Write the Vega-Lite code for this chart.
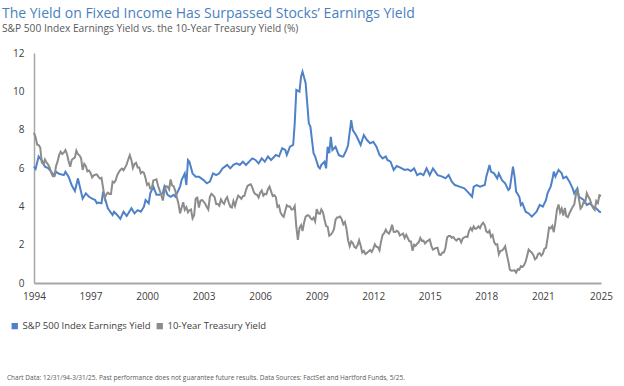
{
  "$schema": "https://vega.github.io/schema/vega-lite/v6.json",
  "padding": {"left": 2, "top": 6, "right": 5, "bottom": 2},
  "background": "white",
  "config": {"view": {"stroke": null}, "font": "Open Sans"},
  "title": {"text": "Chart Data: 12/31/94-3/31/25. Past performance does not guarantee future results. Data Sources: FactSet and Hartford Funds, 5/25.", "orient": "bottom", "anchor": "start", "frame": "bounds", "fontSize": 6.5, "fontWeight": "normal", "color": "#595959", "offset": 44, "dx": 5},
  "datasets": {
    "sp": [
      {"d":"1994-12","v":6.07},{"d":"1995-01","v":5.95},{"d":"1995-03","v":6.6},{"d":"1995-05","v":6.4},{"d":"1995-07","v":6.07},{"d":"1995-09","v":6.0},{"d":"1995-11","v":5.8},{"d":"1996-01","v":5.6},{"d":"1996-02","v":5.8},{"d":"1996-04","v":5.7},{"d":"1996-07","v":5.63},{"d":"1996-08","v":5.8},{"d":"1996-10","v":5.55},{"d":"1996-12","v":5.1},
      {"d":"1997-02","v":4.8},{"d":"1997-04","v":5.46},{"d":"1997-05","v":5.1},{"d":"1997-07","v":4.4},{"d":"1997-09","v":4.68},{"d":"1997-11","v":4.5},{"d":"1998-01","v":4.4},{"d":"1998-03","v":4.33},{"d":"1998-04","v":4.16},{"d":"1998-05","v":4.2},{"d":"1998-07","v":4.16},{"d":"1998-08","v":4.77},{"d":"1998-11","v":3.9},
      {"d":"1999-02","v":3.55},{"d":"1999-03","v":3.72},{"d":"1999-05","v":3.55},{"d":"1999-07","v":3.35},{"d":"1999-09","v":3.72},{"d":"1999-11","v":3.5},{"d":"1999-12","v":3.63},{"d":"2000-02","v":3.9},{"d":"2000-04","v":3.63},{"d":"2000-06","v":3.8},{"d":"2000-08","v":3.72},{"d":"2000-10","v":3.98},{"d":"2000-11","v":4.33},
      {"d":"2001-01","v":4.16},{"d":"2001-02","v":4.68},{"d":"2001-04","v":5.03},{"d":"2001-06","v":4.6},{"d":"2001-08","v":4.6},{"d":"2001-10","v":4.68},{"d":"2001-11","v":5.03},{"d":"2002-01","v":4.6},{"d":"2002-03","v":4.5},{"d":"2002-05","v":4.6},{"d":"2002-06","v":4.5},{"d":"2002-09","v":5.03},{"d":"2002-10","v":5.37},{"d":"2002-12","v":5.72},
      {"d":"2003-01","v":5.11},{"d":"2003-02","v":6.42},{"d":"2003-03","v":6.33},{"d":"2003-05","v":5.72},{"d":"2003-07","v":5.55},{"d":"2003-09","v":5.55},{"d":"2003-12","v":5.37},{"d":"2004-02","v":5.2},{"d":"2004-04","v":5.29},{"d":"2004-06","v":5.72},{"d":"2004-08","v":5.63},{"d":"2004-10","v":5.72},{"d":"2004-12","v":5.98},
      {"d":"2005-03","v":6.16},{"d":"2005-05","v":5.98},{"d":"2005-07","v":6.16},{"d":"2005-09","v":6.24},{"d":"2005-11","v":6.16},{"d":"2006-01","v":6.33},{"d":"2006-03","v":6.16},{"d":"2006-07","v":6.5},{"d":"2006-09","v":6.42},{"d":"2006-11","v":6.24},
      {"d":"2007-01","v":6.5},{"d":"2007-03","v":6.33},{"d":"2007-05","v":6.6},{"d":"2007-07","v":6.42},{"d":"2007-10","v":6.68},{"d":"2007-12","v":6.6},{"d":"2008-02","v":7.03},{"d":"2008-04","v":6.94},{"d":"2008-05","v":6.68},{"d":"2008-07","v":7.11},{"d":"2008-09","v":7.2},{"d":"2008-10","v":8.33},{"d":"2008-11","v":10.07},
      {"d":"2009-01","v":9.98},{"d":"2009-02","v":10.77},{"d":"2009-03","v":11.03},{"d":"2009-05","v":10.42},{"d":"2009-07","v":8.33},{"d":"2009-08","v":8.16},{"d":"2009-10","v":6.77},{"d":"2009-11","v":6.6},
      {"d":"2010-01","v":6.07},{"d":"2010-02","v":5.98},{"d":"2010-03","v":6.16},{"d":"2010-05","v":6.33},{"d":"2010-06","v":5.98},{"d":"2010-07","v":7.11},{"d":"2010-08","v":6.77},{"d":"2010-09","v":7.63},{"d":"2010-10","v":6.94},{"d":"2010-12","v":7.11},
      {"d":"2011-02","v":6.68},{"d":"2011-04","v":6.6},{"d":"2011-05","v":6.6},{"d":"2011-07","v":6.94},{"d":"2011-08","v":7.2},{"d":"2011-10","v":8.5},{"d":"2011-11","v":7.98},{"d":"2012-01","v":7.72},{"d":"2012-02","v":7.55},{"d":"2012-04","v":7.2},{"d":"2012-06","v":7.72},{"d":"2012-08","v":7.46},{"d":"2012-10","v":7.29},{"d":"2012-12","v":7.37},
      {"d":"2013-02","v":7.11},{"d":"2013-04","v":6.68},{"d":"2013-06","v":6.5},{"d":"2013-08","v":6.6},{"d":"2013-09","v":6.42},{"d":"2013-11","v":6.33},{"d":"2014-01","v":5.9},{"d":"2014-03","v":6.1},{"d":"2014-05","v":6.03},{"d":"2014-08","v":5.9},{"d":"2014-10","v":5.93},{"d":"2014-12","v":5.84},
      {"d":"2015-02","v":5.98},{"d":"2015-04","v":5.63},{"d":"2015-06","v":5.72},{"d":"2015-08","v":5.63},{"d":"2015-10","v":5.98},{"d":"2015-12","v":5.63},{"d":"2016-02","v":5.98},{"d":"2016-05","v":5.63},{"d":"2016-08","v":5.55},{"d":"2016-10","v":5.46},{"d":"2016-12","v":5.63},
      {"d":"2017-02","v":5.29},{"d":"2017-04","v":5.11},{"d":"2017-07","v":5.03},{"d":"2017-10","v":4.94},{"d":"2017-12","v":4.77},{"d":"2018-03","v":4.5},{"d":"2018-04","v":5.03},{"d":"2018-06","v":5.11},{"d":"2018-08","v":5.03},{"d":"2018-11","v":5.11},{"d":"2018-12","v":5.55},
      {"d":"2019-02","v":6.16},{"d":"2019-03","v":5.81},{"d":"2019-05","v":5.72},{"d":"2019-07","v":5.46},{"d":"2019-08","v":5.72},{"d":"2019-10","v":5.37},{"d":"2019-12","v":5.2},{"d":"2020-02","v":4.85},{"d":"2020-03","v":4.94},{"d":"2020-05","v":6.07},{"d":"2020-06","v":5.55},{"d":"2020-07","v":4.77},{"d":"2020-09","v":4.5},{"d":"2020-10","v":4.07},{"d":"2020-11","v":4.16},
      {"d":"2021-01","v":3.72},{"d":"2021-03","v":3.63},{"d":"2021-05","v":3.46},{"d":"2021-07","v":3.63},{"d":"2021-08","v":3.72},{"d":"2021-10","v":4.07},{"d":"2021-12","v":3.98},{"d":"2022-02","v":4.33},{"d":"2022-03","v":4.68},{"d":"2022-05","v":5.03},{"d":"2022-06","v":5.37},{"d":"2022-07","v":5.81},{"d":"2022-08","v":5.55},{"d":"2022-10","v":5.9},{"d":"2022-12","v":5.72},
      {"d":"2023-01","v":5.46},{"d":"2023-03","v":5.55},{"d":"2023-05","v":5.29},{"d":"2023-07","v":4.94},{"d":"2023-08","v":4.68},{"d":"2023-10","v":4.94},{"d":"2023-11","v":4.5},{"d":"2024-02","v":4.33},{"d":"2024-04","v":4.07},{"d":"2024-06","v":4.16},{"d":"2024-08","v":3.98},{"d":"2024-10","v":3.9},{"d":"2024-12","v":3.72},{"d":"2025-01","v":3.68}
    ],
    "ty": [
      {"d":"1994-12","v":7.84},
      {"d":"1995-01","v":7.6},{"d":"1995-02","v":7.22},{"d":"1995-03","v":7.2},{"d":"1995-04","v":7.06},{"d":"1995-05","v":6.28},{"d":"1995-06","v":6.2},{"d":"1995-07","v":6.44},{"d":"1995-08","v":6.28},{"d":"1995-09","v":6.18},{"d":"1995-10","v":6.02},{"d":"1995-11","v":5.74},{"d":"1995-12","v":5.57},
      {"d":"1996-01","v":5.58},{"d":"1996-02","v":6.1},{"d":"1996-03","v":6.33},{"d":"1996-04","v":6.67},{"d":"1996-05","v":6.85},{"d":"1996-06","v":6.73},{"d":"1996-07","v":6.8},{"d":"1996-08","v":6.94},{"d":"1996-09","v":6.72},{"d":"1996-10","v":6.37},{"d":"1996-11","v":6.06},{"d":"1996-12","v":6.42},
      {"d":"1997-01","v":6.49},{"d":"1997-02","v":6.55},{"d":"1997-03","v":6.9},{"d":"1997-04","v":6.72},{"d":"1997-05","v":6.66},{"d":"1997-06","v":6.5},{"d":"1997-07","v":5.9},{"d":"1997-08","v":6.22},{"d":"1997-09","v":6.1},{"d":"1997-10","v":5.83},{"d":"1997-11","v":5.87},{"d":"1997-12","v":5.74},
      {"d":"1998-01","v":5.51},{"d":"1998-02","v":5.62},{"d":"1998-03","v":5.65},{"d":"1998-04","v":5.67},{"d":"1998-05","v":5.55},{"d":"1998-06","v":5.45},{"d":"1998-07","v":5.49},{"d":"1998-08","v":4.98},{"d":"1998-09","v":4.42},{"d":"1998-10","v":4.61},{"d":"1998-11","v":4.71},{"d":"1998-12","v":4.65},
      {"d":"1999-01","v":4.65},{"d":"1999-02","v":5.29},{"d":"1999-03","v":5.24},{"d":"1999-04","v":5.35},{"d":"1999-05","v":5.62},{"d":"1999-06","v":5.78},{"d":"1999-07","v":5.9},{"d":"1999-08","v":5.97},{"d":"1999-09","v":5.88},{"d":"1999-10","v":6.02},{"d":"1999-11","v":6.19},{"d":"1999-12","v":6.44},
      {"d":"2000-01","v":6.67},{"d":"2000-02","v":6.41},{"d":"2000-03","v":6.0},{"d":"2000-04","v":6.21},{"d":"2000-05","v":6.27},{"d":"2000-06","v":6.03},{"d":"2000-07","v":6.03},{"d":"2000-08","v":5.73},{"d":"2000-09","v":5.8},{"d":"2000-10","v":5.75},{"d":"2000-11","v":5.47},{"d":"2000-12","v":5.12},
      {"d":"2001-01","v":5.19},{"d":"2001-02","v":4.92},{"d":"2001-03","v":4.93},{"d":"2001-04","v":5.35},{"d":"2001-05","v":5.38},{"d":"2001-06","v":5.41},{"d":"2001-07","v":5.07},{"d":"2001-08","v":4.83},{"d":"2001-09","v":4.6},{"d":"2001-10","v":4.3},{"d":"2001-11","v":4.75},{"d":"2001-12","v":5.05},
      {"d":"2002-01","v":5.03},{"d":"2002-02","v":4.88},{"d":"2002-03","v":5.4},{"d":"2002-04","v":5.09},{"d":"2002-05","v":5.04},{"d":"2002-06","v":4.8},{"d":"2002-07","v":4.46},{"d":"2002-08","v":4.14},{"d":"2002-09","v":3.63},{"d":"2002-10","v":3.93},{"d":"2002-11","v":4.21},{"d":"2002-12","v":3.82},
      {"d":"2003-01","v":3.96},{"d":"2003-02","v":3.69},{"d":"2003-03","v":3.8},{"d":"2003-04","v":3.84},{"d":"2003-05","v":3.37},{"d":"2003-06","v":3.54},{"d":"2003-07","v":4.41},{"d":"2003-08","v":4.46},{"d":"2003-09","v":3.94},{"d":"2003-10","v":4.29},{"d":"2003-11","v":4.33},{"d":"2003-12","v":4.25},
      {"d":"2004-01","v":4.13},{"d":"2004-02","v":3.97},{"d":"2004-03","v":3.84},{"d":"2004-04","v":4.5},{"d":"2004-05","v":4.65},{"d":"2004-06","v":4.58},{"d":"2004-07","v":4.48},{"d":"2004-08","v":4.12},{"d":"2004-09","v":4.12},{"d":"2004-10","v":4.03},{"d":"2004-11","v":4.36},{"d":"2004-12","v":4.22},
      {"d":"2005-01","v":4.13},{"d":"2005-02","v":4.36},{"d":"2005-03","v":4.48},{"d":"2005-04","v":4.2},{"d":"2005-05","v":3.98},{"d":"2005-06","v":3.94},{"d":"2005-07","v":4.28},{"d":"2005-08","v":4.02},{"d":"2005-09","v":4.33},{"d":"2005-10","v":4.56},{"d":"2005-11","v":4.49},{"d":"2005-12","v":4.39},
      {"d":"2006-01","v":4.53},{"d":"2006-02","v":4.55},{"d":"2006-03","v":4.85},{"d":"2006-04","v":5.07},{"d":"2006-05","v":5.12},{"d":"2006-06","v":5.15},{"d":"2006-07","v":4.99},{"d":"2006-08","v":4.74},{"d":"2006-09","v":4.63},{"d":"2006-10","v":4.61},{"d":"2006-11","v":4.46},{"d":"2006-12","v":4.71},
      {"d":"2007-01","v":4.83},{"d":"2007-02","v":4.56},{"d":"2007-03","v":4.65},{"d":"2007-04","v":4.63},{"d":"2007-05","v":4.89},{"d":"2007-06","v":5.03},{"d":"2007-07","v":4.78},{"d":"2007-08","v":4.54},{"d":"2007-09","v":4.59},{"d":"2007-10","v":4.48},{"d":"2007-11","v":3.97},{"d":"2007-12","v":4.04},
      {"d":"2008-01","v":3.67},{"d":"2008-02","v":3.53},{"d":"2008-03","v":3.45},{"d":"2008-04","v":3.77},{"d":"2008-05","v":4.06},{"d":"2008-06","v":3.99},{"d":"2008-07","v":3.99},{"d":"2008-08","v":3.83},{"d":"2008-09","v":3.85},{"d":"2008-10","v":4.01},{"d":"2008-11","v":2.93},{"d":"2008-12","v":2.25},
      {"d":"2009-01","v":2.87},{"d":"2009-02","v":3.02},{"d":"2009-03","v":2.71},{"d":"2009-04","v":3.16},{"d":"2009-05","v":3.47},{"d":"2009-06","v":3.53},{"d":"2009-07","v":3.52},{"d":"2009-08","v":3.4},{"d":"2009-09","v":3.31},{"d":"2009-10","v":3.41},{"d":"2009-11","v":3.21},{"d":"2009-12","v":3.85},
      {"d":"2010-01","v":3.63},{"d":"2010-02","v":3.61},{"d":"2010-03","v":3.84},{"d":"2010-04","v":3.69},{"d":"2010-05","v":3.31},{"d":"2010-06","v":2.97},{"d":"2010-07","v":2.94},{"d":"2010-08","v":2.47},{"d":"2010-09","v":2.53},{"d":"2010-10","v":2.63},{"d":"2010-11","v":2.81},{"d":"2010-12","v":3.3},
      {"d":"2011-01","v":3.42},{"d":"2011-02","v":3.43},{"d":"2011-03","v":3.47},{"d":"2011-04","v":3.32},{"d":"2011-05","v":3.06},{"d":"2011-06","v":3.18},{"d":"2011-07","v":2.82},{"d":"2011-08","v":2.23},{"d":"2011-09","v":1.92},{"d":"2011-10","v":2.17},{"d":"2011-11","v":2.08},{"d":"2011-12","v":1.89},
      {"d":"2012-01","v":1.83},{"d":"2012-02","v":1.98},{"d":"2012-03","v":2.23},{"d":"2012-04","v":1.95},{"d":"2012-05","v":1.59},{"d":"2012-06","v":1.67},{"d":"2012-07","v":1.51},{"d":"2012-08","v":1.57},{"d":"2012-09","v":1.65},{"d":"2012-10","v":1.72},{"d":"2012-11","v":1.62},{"d":"2012-12","v":1.78},
      {"d":"2013-01","v":2.02},{"d":"2013-02","v":1.89},{"d":"2013-03","v":1.87},{"d":"2013-04","v":1.7},{"d":"2013-05","v":2.16},{"d":"2013-06","v":2.52},{"d":"2013-07","v":2.6},{"d":"2013-08","v":2.78},{"d":"2013-09","v":2.64},{"d":"2013-10","v":2.57},{"d":"2013-11","v":2.75},{"d":"2013-12","v":3.04},
      {"d":"2014-01","v":2.67},{"d":"2014-02","v":2.66},{"d":"2014-03","v":2.73},{"d":"2014-04","v":2.67},{"d":"2014-05","v":2.48},{"d":"2014-06","v":2.53},{"d":"2014-07","v":2.58},{"d":"2014-08","v":2.35},{"d":"2014-09","v":2.52},{"d":"2014-10","v":2.35},{"d":"2014-11","v":2.18},{"d":"2014-12","v":2.17},
      {"d":"2015-01","v":1.68},{"d":"2015-02","v":2.0},{"d":"2015-03","v":1.94},{"d":"2015-04","v":2.05},{"d":"2015-05","v":2.12},{"d":"2015-06","v":2.35},{"d":"2015-07","v":2.2},{"d":"2015-08","v":2.21},{"d":"2015-09","v":2.06},{"d":"2015-10","v":2.16},{"d":"2015-11","v":2.21},{"d":"2015-12","v":2.27},
      {"d":"2016-01","v":1.94},{"d":"2016-02","v":1.74},{"d":"2016-03","v":1.78},{"d":"2016-04","v":1.83},{"d":"2016-05","v":1.84},{"d":"2016-06","v":1.49},{"d":"2016-07","v":1.46},{"d":"2016-08","v":1.58},{"d":"2016-09","v":1.6},{"d":"2016-10","v":1.84},{"d":"2016-11","v":2.37},{"d":"2016-12","v":2.45},
      {"d":"2017-01","v":2.45},{"d":"2017-02","v":2.36},{"d":"2017-03","v":2.4},{"d":"2017-04","v":2.29},{"d":"2017-05","v":2.21},{"d":"2017-06","v":2.31},{"d":"2017-07","v":2.3},{"d":"2017-08","v":2.12},{"d":"2017-09","v":2.33},{"d":"2017-10","v":2.38},{"d":"2017-11","v":2.42},{"d":"2017-12","v":2.4},
      {"d":"2018-01","v":2.72},{"d":"2018-02","v":2.87},{"d":"2018-03","v":2.74},{"d":"2018-04","v":2.95},{"d":"2018-05","v":2.83},{"d":"2018-06","v":2.85},{"d":"2018-07","v":2.96},{"d":"2018-08","v":2.86},{"d":"2018-09","v":3.05},{"d":"2018-10","v":3.15},{"d":"2018-11","v":3.01},{"d":"2018-12","v":2.69},
      {"d":"2019-01","v":2.63},{"d":"2019-02","v":2.73},{"d":"2019-03","v":2.41},{"d":"2019-04","v":2.51},{"d":"2019-05","v":2.14},{"d":"2019-06","v":2.0},{"d":"2019-07","v":2.02},{"d":"2019-08","v":1.5},{"d":"2019-09","v":1.68},{"d":"2019-10","v":1.69},{"d":"2019-11","v":1.78},{"d":"2019-12","v":1.92},
      {"d":"2020-01","v":1.51},{"d":"2020-02","v":1.13},{"d":"2020-03","v":0.7},{"d":"2020-04","v":0.64},{"d":"2020-05","v":0.65},{"d":"2020-06","v":0.66},{"d":"2020-07","v":0.55},{"d":"2020-08","v":0.72},{"d":"2020-09","v":0.69},{"d":"2020-10","v":0.88},{"d":"2020-11","v":0.84},{"d":"2020-12","v":0.93},
      {"d":"2021-01","v":1.11},{"d":"2021-02","v":1.44},{"d":"2021-03","v":1.74},{"d":"2021-04","v":1.65},{"d":"2021-05","v":1.58},{"d":"2021-06","v":1.45},{"d":"2021-07","v":1.24},{"d":"2021-08","v":1.31},{"d":"2021-09","v":1.52},{"d":"2021-10","v":1.55},{"d":"2021-11","v":1.43},{"d":"2021-12","v":1.52},
      {"d":"2022-01","v":1.79},{"d":"2022-02","v":1.83},{"d":"2022-03","v":2.32},{"d":"2022-04","v":2.89},{"d":"2022-05","v":2.85},{"d":"2022-06","v":2.98},{"d":"2022-07","v":2.65},{"d":"2022-08","v":3.19},{"d":"2022-09","v":3.83},{"d":"2022-10","v":4.1},{"d":"2022-11","v":3.68},{"d":"2022-12","v":3.88},
      {"d":"2023-01","v":3.52},{"d":"2023-02","v":3.92},{"d":"2023-03","v":3.48},{"d":"2023-04","v":3.44},{"d":"2023-05","v":3.64},{"d":"2023-06","v":3.81},{"d":"2023-07","v":3.97},{"d":"2023-08","v":4.09},{"d":"2023-09","v":4.59},{"d":"2023-10","v":4.88},{"d":"2023-11","v":4.37},{"d":"2023-12","v":3.88},
      {"d":"2024-01","v":3.99},{"d":"2024-02","v":4.25},{"d":"2024-03","v":4.2},{"d":"2024-04","v":4.69},{"d":"2024-05","v":4.51},{"d":"2024-06","v":4.36},{"d":"2024-07","v":4.09},{"d":"2024-08","v":3.91},{"d":"2024-09","v":3.81},{"d":"2024-10","v":4.28},{"d":"2024-11","v":4.17},{"d":"2024-12","v":4.58},
      {"d":"2025-01","v":4.54}
    ]
  },
  "vconcat": [
    {
      "title": {"text": "The Yield on Fixed Income Has Surpassed Stocks’ Earnings Yield", "subtitle": "S&P 500 Index Earnings Yield vs. the 10-Year Treasury Yield (%)", "anchor": "start", "frame": "bounds", "fontSize": 14, "fontWeight": "normal", "color": "#4a7fc0", "subtitleFontSize": 10.2, "subtitleColor": "#595959", "subtitlePadding": 3, "offset": 14},
      "width": 567,
      "height": 230,
      "encoding": {
        "x": {"field": "d", "type": "temporal",
          "scale": {"type": "utc", "domain": [{"year": 1994, "month": 12, "date": 1, "utc": true}, {"year": 2025, "month": 1, "date": 1, "utc": true}], "nice": false},
          "axis": {"title": null, "values": [
            {"year": 1994, "month": 12, "date": 1, "utc": true},
            {"year": 1997, "month": 12, "date": 1, "utc": true},
            {"year": 2000, "month": 12, "date": 1, "utc": true},
            {"year": 2003, "month": 12, "date": 1, "utc": true},
            {"year": 2006, "month": 12, "date": 1, "utc": true},
            {"year": 2009, "month": 12, "date": 1, "utc": true},
            {"year": 2012, "month": 12, "date": 1, "utc": true},
            {"year": 2015, "month": 12, "date": 1, "utc": true},
            {"year": 2018, "month": 12, "date": 1, "utc": true},
            {"year": 2021, "month": 12, "date": 1, "utc": true},
            {"year": 2025, "month": 1, "date": 1, "utc": true}],
            "labelExpr": "utcFormat(datum.value, '%Y')", "grid": false, "ticks": false, "labelPadding": 8, "labelFontSize": 10, "labelColor": "#404040", "domainColor": "#a6a6a6", "domainWidth": 2, "labelFlush": false, "labelOverlap": false}},
        "y": {"field": "v", "type": "quantitative",
          "scale": {"domain": [0, 12], "nice": false},
          "axis": {"title": null, "values": [0, 2, 4, 6, 8, 10, 12], "grid": false, "ticks": false, "labelPadding": 10, "labelFontSize": 10, "labelColor": "#404040", "domainColor": "#a6a6a6", "domainWidth": 1.5, "minExtent": 32, "maxExtent": 32}}
      },
      "layer": [
        {
          "data": {"name": "sp"},
          "mark": {"type": "line", "strokeWidth": 2},
          "encoding": {
            "color": {"datum": "S&P 500 Index Earnings Yield", "type": "nominal",
              "scale": {"domain": ["S&P 500 Index Earnings Yield", "10-Year Treasury Yield"], "range": ["#4f81c9", "#8c8c8c"]},
              "legend": {"orient": "none", "legendX": -24, "legendY": 268, "direction": "horizontal", "title": null, "labelFontSize": 9.5, "labelColor": "#404040", "symbolType": "square", "symbolSize": 40, "symbolStrokeWidth": 0, "columnPadding": 4, "labelOffset": 3,
                "encode": {"symbols": {"update": {"fill": {"scale": "color", "field": "value"}, "shape": {"value": "square"}}}}}}
          }
        },
        {
          "data": {"name": "ty"},
          "mark": {"type": "line", "strokeWidth": 2},
          "encoding": {
            "color": {"datum": "10-Year Treasury Yield", "type": "nominal"}
          }
        }
      ]
    }
  ]
}
